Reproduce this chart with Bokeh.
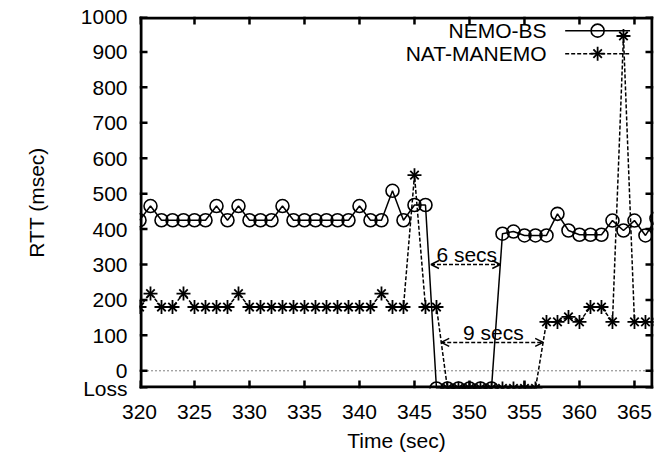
from bokeh.plotting import figure
from bokeh.models import Range1d, FixedTicker, Span, Arrow, OpenHead, Label
from bokeh.embed import file_html
from bokeh.resources import INLINE

# ---------------- data ----------------
LOSS = -50
time = list(range(320, 368))
nemo_bs = [425, 465, 425, 425, 425, 425, 425, 465, 425, 465,
           425, 425, 425, 465, 425, 425, 425, 425, 425, 425,
           465, 425, 425, 508, 425, 468, 468, LOSS, LOSS, LOSS,
           LOSS, LOSS, LOSS, 387, 393, 382, 382, 382, 443, 396,
           384, 384, 384, 424, 396, 424, 382, 430]
nat_manemo = [180, 218, 180, 180, 218, 180, 180, 180, 180, 218,
              180, 180, 180, 180, 180, 180, 180, 180, 180, 180,
              180, 180, 218, 180, 180, 552, 180, 180, LOSS, LOSS,
              LOSS, LOSS, LOSS, LOSS, LOSS, LOSS, LOSS, 138, 138, 152,
              138, 180, 180, 138, 945, 138, 138, 138]
x_ticks = [320, 325, 330, 335, 340, 345, 350, 355, 360, 365]
y_ticks = [LOSS, 0, 100, 200, 300, 400, 500, 600, 700, 800, 900, 1000]
y_tick_names = {LOSS: "Loss"}
series_names = ["NEMO-BS", "NAT-MANEMO"]

# annotations: (start, end, level, text)
gaps = [(346.5, 352.8, 300, "6 secs"), (347.43, 356.7, 80, "9 secs")]

# ---------------- style ----------------
FONT = "Liberation Sans"
FS = "21px"
X0, X1 = 320, 366.73
Y0, Y1 = LOSS, 1000
W, H = 659, 457
BL, BR, BT, BB = 139, 6, 16, 69
XPX = (W - BL - BR) / (X1 - X0)      # pixels per x unit
YPX = (H - BT - BB) / (Y1 - Y0)      # pixels per y unit

p = figure(width=W, height=H, output_backend="svg", toolbar_location=None,
           x_range=Range1d(X0, X1), y_range=Range1d(Y0, Y1),
           min_border_left=BL, min_border_right=BR, min_border_top=BT,
           min_border_bottom=BB,
           x_axis_label="Time (sec)", y_axis_label="RTT (msec)")
p.grid.visible = False
p.outline_line_color = None
p.background_fill_color = "white"
p.border_fill_color = "white"

p.xaxis.ticker = FixedTicker(ticks=x_ticks)
p.yaxis.ticker = FixedTicker(ticks=y_ticks)
p.yaxis.major_label_overrides = y_tick_names

for ax in p.axis:
    ax.axis_line_color = None
    ax.major_tick_line_color = None
    ax.minor_tick_line_color = None
    ax.major_tick_in = 0
    ax.major_tick_out = 0
    ax.major_label_text_font = FONT
    ax.major_label_text_font_size = FS
    ax.major_label_text_color = "black"
    ax.axis_label_text_font = FONT
    ax.axis_label_text_font_size = FS
    ax.axis_label_text_font_style = "normal"
    ax.axis_label_text_color = "black"

p.xaxis.major_label_standoff = 16
p.xaxis.axis_label_standoff = 7
p.yaxis.major_label_standoff = 12
p.yaxis.axis_label_standoff = 30

# gnuplot border drawn as filled bars (inside the frame)
BORDER_PX = 3
bx = BORDER_PX / XPX
by = BORDER_PX / YPX
p.quad(left=[X0, X1 - bx, X0, X0], right=[X0 + bx, X1, X1, X1],
       bottom=[Y0, Y0, Y0, Y1 - by], top=[Y1, Y1, Y0 + by, Y1],
       fill_color="black", line_color=None)

# mirrored inward ticks, as thin filled bars
TICK_PX = 8
TW_PX = 2.5
tx = TICK_PX / XPX
ty = TICK_PX / YPX
hwx = TW_PX / 2 / XPX
hwy = TW_PX / 2 / YPX
n = len(x_ticks)
m = len(y_ticks)
p.quad(left=[t - hwx for t in x_ticks] * 2, right=[t + hwx for t in x_ticks] * 2,
       bottom=[Y0] * n + [Y1 - ty] * n, top=[Y0 + ty] * n + [Y1] * n,
       fill_color="black", line_color=None)
p.quad(left=[X0] * m + [X1 - tx] * m, right=[X0 + tx] * m + [X1] * m,
       bottom=[t - hwy for t in y_ticks] * 2, top=[t + hwy for t in y_ticks] * 2,
       fill_color="black", line_color=None)

# zero line
p.add_layout(Span(location=0, dimension="width", line_color="black",
                  line_width=1, line_dash="1 3"))

# series
p.line(time, nemo_bs, line_color="black", line_width=1.5)
p.scatter(time, nemo_bs, marker="circle", size=13, fill_color=None,
          line_color="black", line_width=1.6)
p.line(time, nat_manemo, line_color="black", line_width=1.5, line_dash="4 2")
p.scatter(time, nat_manemo, marker="cross", size=14, line_color="black", line_width=1.8)
p.scatter(time, nat_manemo, marker="x", size=12, line_color="black", line_width=1.8)

# gap annotations
for x0, x1, lvl, txt in gaps:
    p.add_layout(Arrow(start=OpenHead(size=8, line_width=1.5, line_color="black"),
                       end=OpenHead(size=8, line_width=1.5, line_color="black"),
                       x_start=x0, y_start=lvl, x_end=x1, y_end=lvl,
                       line_width=1.5, line_dash="4 2", line_color="black"))
    p.add_layout(Label(x=(x0 + x1) / 2 + 0.1, y=lvl + 27, text=txt,
                       text_align="center", text_baseline="middle",
                       text_font=FONT, text_font_size=FS, text_color="black"))

# gnuplot-style key (label left, sample right)
KEY_TEXT_X = 357.0
KEY_LINE = (358.7, 364.6)
KEY_ROWS = [960, 895]
kx_mid = (KEY_LINE[0] + KEY_LINE[1]) / 2
for name, row, dash in zip(series_names, KEY_ROWS, ["solid", "4 2"]):
    p.add_layout(Label(x=KEY_TEXT_X, y=row, text=name, text_align="right",
                       text_baseline="middle", text_font=FONT,
                       text_font_size=FS, text_color="black"))
    p.line(list(KEY_LINE), [row, row], line_color="black", line_width=1.5,
           line_dash=dash)
p.scatter([kx_mid], [KEY_ROWS[0]], marker="circle", size=13, fill_color=None,
          line_color="black", line_width=1.6)
p.scatter([kx_mid], [KEY_ROWS[1]], marker="cross", size=14, line_color="black",
          line_width=1.8)
p.scatter([kx_mid], [KEY_ROWS[1]], marker="x", size=12, line_color="black",
          line_width=1.8)

open("out.html", "w").write(file_html(p, INLINE))
